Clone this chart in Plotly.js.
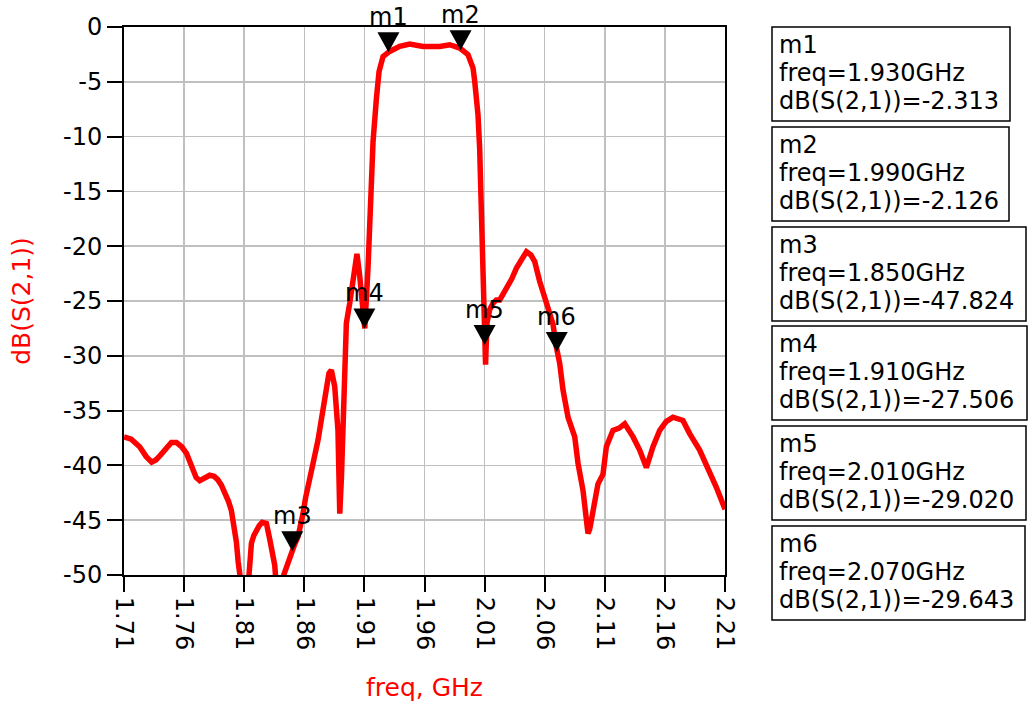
<!DOCTYPE html>
<html>
<head>
<meta charset="utf-8">
<script src="https://cdn.plot.ly/plotly-3.0.1.min.js"></script>
<style>html,body{margin:0;padding:0;background:#fff;}#chart{width:1028px;height:709px;}</style>
</head>
<body>
<div id="chart"></div>
<script>
// ---- data ----
const freqGHz = [
  1.710, 1.716, 1.723, 1.7285, 1.733, 1.7365, 1.740, 1.745, 1.7494, 1.7536,
  1.758, 1.762, 1.765, 1.7674, 1.770, 1.773, 1.777, 1.7813, 1.785, 1.788,
  1.791, 1.7938, 1.797, 1.7993, 1.802, 1.8035, 1.805, 1.806, 1.810, 1.814,
  1.816, 1.818, 1.820, 1.8225, 1.825, 1.8285, 1.8312, 1.8335, 1.8354, 1.836,
  1.8395, 1.8429, 1.846, 1.8493, 1.852, 1.8548, 1.857, 1.8589, 1.861, 1.8631,
  1.8673, 1.8714, 1.8742, 1.876, 1.8784, 1.8805, 1.8825, 1.8853, 1.888, 1.8895,
  1.8909, 1.8936, 1.895, 1.8978, 1.901, 1.9038, 1.906, 1.908, 1.9103, 1.913,
  1.9158, 1.9172, 1.920, 1.9222, 1.9255, 1.931, 1.9394, 1.9477, 1.9588, 1.9727,
  1.981, 1.9893, 1.9962, 2.0004, 2.0018, 2.0045, 2.0059, 2.0073, 2.0087, 2.0100,
  2.0108, 2.012, 2.0142, 2.017, 2.0198, 2.0226, 2.0281, 2.0325, 2.0365, 2.041,
  2.0448, 2.0485, 2.0517, 2.0558, 2.0614, 2.0669, 2.0697, 2.0725, 2.0752, 2.0794,
  2.085, 2.0877, 2.0919, 2.0947, 2.096, 2.0975, 2.0989, 2.1016, 2.1043, 2.1085,
  2.1113, 2.1168, 2.122, 2.1266, 2.1335, 2.139, 2.1446, 2.1501, 2.1557, 2.161,
  2.1667, 2.175, 2.1806, 2.1889, 2.1973, 2.2028, 2.21
];
const s21dB = [
  -37.4, -37.6, -38.3, -39.2, -39.7, -39.5, -39.1, -38.4, -37.9, -37.9,
  -38.3, -38.9, -39.8, -40.5, -41.1, -41.4, -41.1, -40.9, -41.0, -41.3,
  -41.8, -42.4, -43.3, -44.1, -45.9, -47.0, -48.8, -50.0, -53.0, -50.0,
  -47.1, -46.4, -45.9, -45.5, -45.2, -45.3, -46.7, -47.9, -49.1, -50.0,
  -52.5, -50.0, -49.0, -47.8, -47.2, -46.5, -45.6, -44.4, -43.0, -41.7,
  -39.8, -37.7, -35.6, -34.2, -32.5, -31.6, -31.3, -32.8, -36.8, -44.4,
  -41.1, -33.1, -27.0, -25.2, -22.8, -20.7, -22.6, -25.0, -27.5, -22.0,
  -14.1, -10.45, -6.5, -4.05, -2.7, -2.23, -1.77, -1.55, -1.77, -1.77,
  -1.62, -1.92, -2.53, -3.75, -4.97, -8.0, -11.1, -17.2, -24.8, -29.0,
  -30.8, -27.0, -25.8, -25.2, -24.9, -24.9, -23.9, -23.0, -22.0, -21.2,
  -20.5, -20.8, -21.4, -23.2, -25.1, -27.1, -29.2, -30.7, -33.1, -35.6,
  -37.4, -39.8, -42.3, -45.3, -46.2, -45.8, -45.0, -43.8, -41.7, -40.8,
  -38.3, -36.8, -36.6, -36.2, -37.4, -38.6, -40.2, -38.3, -36.8, -36.0,
  -35.6, -35.9, -37.1, -38.6, -40.5, -42.0, -44.0
];
const markerNames = ['m1', 'm2', 'm3', 'm4', 'm5', 'm6'];
const markerFreq = [1.930, 1.990, 1.850, 1.910, 2.010, 2.070];
const markerDb = [-2.313, -2.126, -47.824, -27.506, -29.020, -29.643];
const xTickVals = [1.71, 1.76, 1.81, 1.86, 1.91, 1.96, 2.01, 2.06, 2.11, 2.16, 2.21];
const xTickText = ['1.71', '1.76', '1.81', '1.86', '1.91', '1.96', '2.01', '2.06', '2.11', '2.16', '2.21'];
const yTickVals = [0, -5, -10, -15, -20, -25, -30, -35, -40, -45, -50];
const yTickText = ['0', '-5', '-10', '-15', '-20', '-25', '-30', '-35', '-40', '-45', '-50'];

// ---- layout geometry (pixels) ----
const W = 1028, H = 709;
const PL = 124, PR = 725, PT = 27, PB = 575;
const px2x = p => (p - PL) / (PR - PL);
const py2y = p => 1 - (p - PT) / (PB - PT);
const FONT = 'DejaVu Sans, Liberation Sans, Arial, sans-serif';
const boxLeft = 772;
const boxWidth = [238, 237, 254, 255, 254, 253];
const boxHeight = 94;
const boxStep = 100;

const shapes = [];
const annotations = [];

markerNames.forEach((name, i) => {
  // triangle marker, apex at the data point
  shapes.push({
    type: 'path', xref: 'x', yref: 'y',
    xsizemode: 'pixel', ysizemode: 'pixel',
    xanchor: markerFreq[i], yanchor: markerDb[i],
    path: 'M -11,20 L 11,20 L 0,0 Z',
    fillcolor: '#000000', line: {width: 0}
  });
  annotations.push({
    x: markerFreq[i], y: markerDb[i], xref: 'x', yref: 'y',
    text: name, showarrow: false, xanchor: 'center', yanchor: 'bottom',
    yshift: 19, font: {family: FONT, size: 24, color: '#000000'}
  });
  // readout box
  const top = PT + i * boxStep + (i >= 3 ? -1 : 0);
  shapes.push({
    type: 'rect', xref: 'paper', yref: 'paper',
    x0: px2x(boxLeft), x1: px2x(boxLeft + boxWidth[i]),
    y0: py2y(top), y1: py2y(top + boxHeight),
    line: {color: '#000000', width: 1.5}, fillcolor: 'rgba(0,0,0,0)'
  });
  const lines = [
    name,
    'freq=' + markerFreq[i].toFixed(3) + 'GHz',
    'dB(S(2,1))=' + markerDb[i].toFixed(3)
  ];
  const offs = [18, 46, 74];
  lines.forEach((t, k) => {
    annotations.push({
      xref: 'paper', yref: 'paper', x: px2x(boxLeft + 5), y: py2y(top + offs[k]),
      xanchor: 'left', yanchor: 'middle', text: t, showarrow: false,
      font: {family: FONT, size: 24, color: '#000000'}
    });
  });
});

const trace = {
  x: freqGHz, y: s21dB, type: 'scatter', mode: 'lines',
  line: {color: '#ff0000', width: 5.5}, hoverinfo: 'skip'
};

const axisCommon = {
  showline: true, linecolor: '#000000', linewidth: 2, mirror: true,
  ticks: 'outside', ticklen: 15, tickwidth: 2, tickcolor: '#000000',
  showgrid: true, gridcolor: '#c0c0c0', gridwidth: 1.5, zeroline: false,
  tickfont: {family: FONT, size: 24, color: '#000000'},
  fixedrange: true, automargin: false
};

const layout = {
  width: W, height: H,
  margin: {l: PL, r: W - PR, t: PT, b: H - PB, pad: 0},
  paper_bgcolor: '#ffffff', plot_bgcolor: '#ffffff',
  showlegend: false,
  xaxis: Object.assign({}, axisCommon, {
    range: [1.71, 2.21], tickmode: 'array', tickvals: xTickVals, ticktext: xTickText,
    tickangle: 90,
    title: {text: 'freq, GHz', font: {family: FONT, size: 25, color: '#ff0000'}, standoff: 29}
  }),
  yaxis: Object.assign({}, axisCommon, {
    range: [-50, 0], tickmode: 'array', tickvals: yTickVals, ticktext: yTickText,
    title: {text: 'dB(S(2,1))', font: {family: FONT, size: 25, color: '#ff0000'}, standoff: 25}
  }),
  shapes: shapes,
  annotations: annotations
};

Plotly.newPlot('chart', [trace], layout, {staticPlot: true, displayModeBar: false});
</script>
</body>
</html>
